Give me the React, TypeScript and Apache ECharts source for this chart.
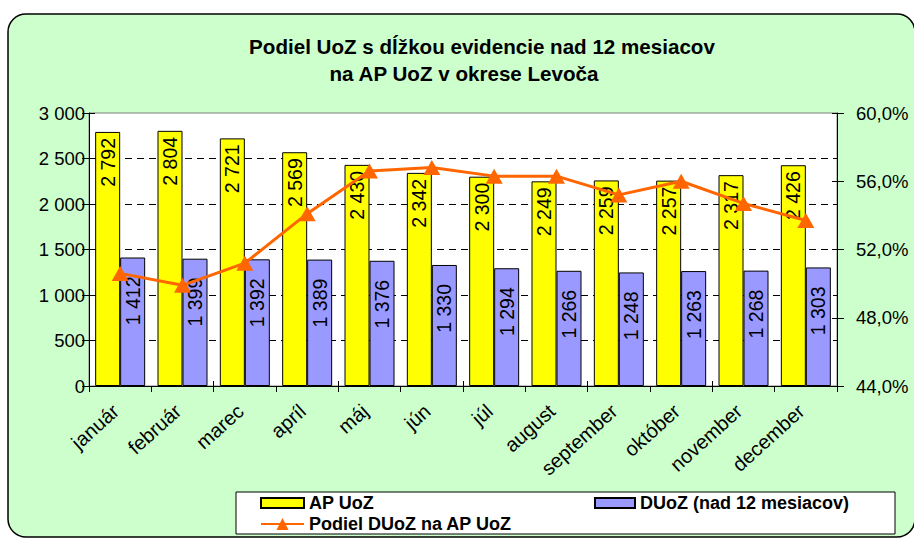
import React, { useEffect, useRef } from "react";
import * as echarts from "echarts";

const categories = ["január", "február", "marec", "apríl", "máj", "jún", "júl", "august", "september", "október", "november", "december"];
const apUoZ = [2792, 2804, 2721, 2569, 2430, 2342, 2300, 2249, 2259, 2257, 2317, 2426];
const dUoZ = [1412, 1399, 1392, 1389, 1376, 1330, 1294, 1266, 1248, 1263, 1268, 1303];
const podiel = [50.6, 49.9, 51.2, 54.1, 56.6, 56.8, 56.3, 56.3, 55.2, 56.0, 54.7, 53.7];
const titleLines = ["Podiel UoZ s dĺžkou evidencie nad 12 mesiacov", "na AP UoZ v okrese Levoča"];
const seriesNames = ["AP UoZ", "DUoZ (nad 12 mesiacov)", "Podiel DUoZ na AP UoZ"];

const FONT = "'Liberation Sans', Arial, sans-serif";

const fmtThousands = (v: number) => {
  const s = String(Math.round(v));
  return s.replace(/\B(?=(\d{3})+(?!\d))/g, " ");
};
const fmtPct = (v: number) => v.toFixed(1).replace(".", ",") + "%";

export default function App() {
  const ref = useRef<HTMLDivElement>(null);
  useEffect(() => {
    if (!ref.current) return;
    const chart = echarts.init(ref.current, undefined, { renderer: "svg" });
    const labelBase = {
      show: true,
      position: "insideTop" as const,
      rotate: 90,
      align: "right" as const,
      verticalAlign: "middle" as const,
      fontSize: 19.5,
      fontFamily: FONT,
      color: "#000",
      formatter: (p: any) => fmtThousands(p.value),
    };
    const legendText = { fontSize: 18, lineHeight: 18, fontWeight: "bold" as const, fontFamily: FONT, color: "#000" };
    chart.setOption({
      animation: false,
      backgroundColor: "#fff",
      graphic: [
        {
          type: "rect",
          z: -10,
          shape: { x: 8, y: 14, width: 907, height: 523, r: 18 },
          style: { fill: "#CCFFCC", stroke: "#000", lineWidth: 1.5 },
        },
        {
          type: "rect",
          z: 1,
          shape: { x: 236, y: 492, width: 659, height: 42 },
          style: { fill: "#fff", stroke: "#000", lineWidth: 1 },
        },
        {
          type: "text",
          x: 482,
          y: 46,
          style: { text: titleLines[0], textAlign: "center", textVerticalAlign: "middle", font: `bold 20.6px ${FONT}`, fill: "#000" },
        },
        {
          type: "text",
          x: 464,
          y: 73,
          style: { text: titleLines[1], textAlign: "center", textVerticalAlign: "middle", font: `bold 20.6px ${FONT}`, fill: "#000" },
        },
      ],
      grid: {
        left: 89,
        right: 77,
        top: 113,
        bottom: 153,
        show: true,
        backgroundColor: "#fff",
        borderColor: "#808080",
        borderWidth: 1,
        containLabel: false,
      },
      legend: [
        {
          data: [{ name: seriesNames[0], icon: "rect" }],
          left: 260,
          top: 494,
          padding: 0,
          itemWidth: 43,
          itemHeight: 10,
          textStyle: legendText,
        },
        {
          data: [{ name: seriesNames[1], icon: "rect" }],
          left: 594,
          top: 494,
          padding: 0,
          itemWidth: 40,
          itemHeight: 10,
          textStyle: legendText,
        },
        {
          data: [seriesNames[2]],
          left: 260,
          top: 515,
          padding: 0,
          itemWidth: 43,
          itemHeight: 15,
          textStyle: legendText,
        },
      ],
      xAxis: [
        {
          type: "category",
          data: categories,
          axisLine: { lineStyle: { color: "#000", width: 1 } },
          axisTick: { show: true, inside: false, length: 6, lineStyle: { color: "#000" } },
          axisLabel: { rotate: 42, fontSize: 20, fontFamily: FONT, color: "#000", margin: 18, padding: [0, 6, 0, 0], interval: 0 },
        },
        {
          type: "category",
          data: categories,
          position: "bottom",
          axisLine: { show: false },
          axisTick: { show: true, inside: true, length: 5, lineStyle: { color: "#000" } },
          axisLabel: { show: false },
        },
      ],
      yAxis: [
        {
          type: "value",
          min: 0,
          max: 3000,
          interval: 500,
          position: "left",
          axisLine: { show: true, lineStyle: { color: "#000" } },
          axisTick: { show: true, length: 7, lineStyle: { color: "#000" } },
          axisLabel: { fontSize: 18.5, fontFamily: FONT, color: "#000", margin: 4, formatter: (v: number) => fmtThousands(v) },
          splitLine: { show: true, showMinLine: false, showMaxLine: false, lineStyle: { color: "#000", type: [7, 5], width: 1 } },
        },
        {
          type: "value",
          min: 44,
          max: 60,
          interval: 4,
          position: "right",
          axisLine: { show: true, lineStyle: { color: "#000" } },
          axisTick: { show: true, length: 7, lineStyle: { color: "#000" } },
          axisLabel: { fontSize: 18.5, fontFamily: FONT, color: "#000", margin: 19, formatter: (v: number) => fmtPct(v) },
          splitLine: { show: false },
        },
        {
          type: "value",
          min: 0,
          max: 3000,
          interval: 500,
          position: "left",
          axisLine: { show: false },
          axisTick: { show: true, inside: true, length: 6, lineStyle: { color: "#000" } },
          axisLabel: { show: false },
          splitLine: { show: false },
        },
        {
          type: "value",
          min: 44,
          max: 60,
          interval: 4,
          position: "right",
          axisLine: { show: false },
          axisTick: { show: true, inside: true, length: 5, lineStyle: { color: "#000" } },
          axisLabel: { show: false },
          splitLine: { show: false },
        },
      ],
      series: [
        {
          name: seriesNames[0],
          type: "bar",
          xAxisIndex: 0,
          yAxisIndex: 0,
          data: apUoZ,
          barWidth: 25,
          barGap: "0%",
          itemStyle: { color: "#FFFF00", borderColor: "#000", borderWidth: 1 },
          label: { ...labelBase, distance: 6 },
        },
        {
          name: seriesNames[1],
          type: "bar",
          xAxisIndex: 0,
          yAxisIndex: 0,
          data: dUoZ,
          barWidth: 25,
          barGap: "0%",
          itemStyle: { color: "#9999FF", borderColor: "#000", borderWidth: 1 },
          label: { ...labelBase, distance: 19 },
        },
        {
          name: seriesNames[2],
          type: "line",
          xAxisIndex: 0,
          yAxisIndex: 1,
          data: podiel,
          z: 5,
          symbol: "triangle",
          symbolSize: [17, 15],
          lineStyle: { color: "#FF6600", width: 3 },
          itemStyle: { color: "#FF6600" },
        },
      ],
    });
    return () => chart.dispose();
  }, []);
  return <div ref={ref} style={{ position: "absolute", left: 0, top: 0, width: 914, height: 539 }} />;
}
